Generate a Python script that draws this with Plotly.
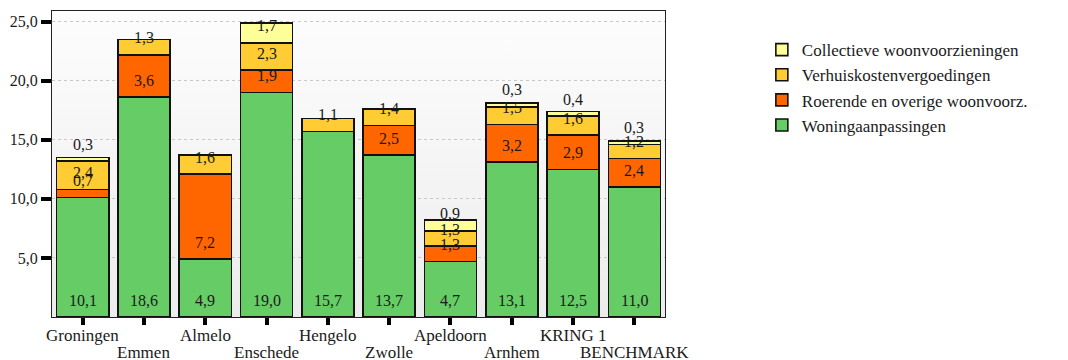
import base64
import plotly.graph_objects as go

# Gemeenten / regio's
categories = ["Groningen", "Emmen", "Almelo", "Enschede", "Hengelo",
              "Zwolle", "Apeldoorn", "Arnhem", "KRING 1", "BENCHMARK"]

# Uitgaven per component (stapelvolgorde van onder naar boven)
woningaanpassingen = [10.1, 18.6, 4.9, 19.0, 15.7, 13.7, 4.7, 13.1, 12.5, 11.0]
roerende_overige = [0.7, 3.6, 7.2, 1.9, None, 2.5, 1.3, 3.2, 2.9, 2.4]
verhuiskosten = [2.4, 1.3, 1.6, 2.3, 1.1, 1.4, 1.3, 1.5, 1.6, 1.2]
collectieve = [0.3, None, None, 1.7, None, None, 0.9, 0.3, 0.4, 0.3]

y_ticks = [5, 10, 15, 20, 25]

series = [
    ("Woningaanpassingen", woningaanpassingen, "#66CC66"),
    ("Roerende en overige woonvoorz.", roerende_overige, "#FF6600"),
    ("Verhuiskostenvergoedingen", verhuiskosten, "#FFCC33"),
    ("Collectieve woonvoorzieningen", collectieve, "#FFFF99"),
]

SERIF = "Liberation Serif"
TEXT = "#1a1a1a"

# soft vertical gradient for the plotting area
gradient_svg = (
    '<svg xmlns="http://www.w3.org/2000/svg" width="100" height="100" '
    'preserveAspectRatio="none">'
    '<defs><linearGradient id="g" x1="0" y1="0" x2="0" y2="1">'
    '<stop offset="0" stop-color="#fdfdfd"/>'
    '<stop offset="1" stop-color="#ececec"/>'
    '</linearGradient></defs>'
    '<rect width="100" height="100" fill="url(#g)"/></svg>'
)
gradient_uri = "data:image/svg+xml;base64," + base64.b64encode(
    gradient_svg.encode()).decode()

fig = go.Figure()
base = [0.0] * len(categories)
annotations = []
for name, values, color in series:
    fig.add_trace(go.Bar(
        x=categories, y=values, name=name,
        marker=dict(color=color, line=dict(color="#111111", width=1.6)),
    ))
    for i, v in enumerate(values):
        if v is None:
            continue
        # value label sits a fixed distance above the base of its segment
        annotations.append(dict(
            x=categories[i], y=base[i], xref="x", yref="y",
            text=f"{v:.1f}".replace(".", ","), showarrow=False,
            yshift=17, yanchor="middle",
            font=dict(family=SERIF, size=16, color=TEXT),
        ))
        base[i] += v

# category names, staggered over two rows below the axis
for i, c in enumerate(categories):
    annotations.append(dict(
        x=c, y=0, xref="x", yref="paper", text=c, showarrow=False,
        yanchor="middle", yshift=-18 if i % 2 == 0 else -35,
        font=dict(family=SERIF, size=17, color=TEXT),
    ))

fig.update_layout(
    width=1068, height=360,
    margin=dict(l=52, r=403, t=11, b=43),
    paper_bgcolor="white",
    plot_bgcolor="#f5f5f5",
    images=[dict(
        source=gradient_uri, xref="paper", yref="paper",
        x=0, y=1, sizex=1, sizey=1, xanchor="left", yanchor="top",
        sizing="stretch", layer="below",
    )],
    barmode="stack",
    bargap=0.15,
    separators=",.",
    font=dict(family=SERIF, color=TEXT),
    annotations=annotations,
    legend=dict(
        traceorder="reversed",
        x=1.158, xanchor="left", y=0.931, yanchor="top",
        font=dict(family=SERIF, size=17, color=TEXT),
        bgcolor="rgba(0,0,0,0)",
        tracegroupgap=0,
    ),
    xaxis=dict(
        type="category", range=[-0.5, len(categories) - 0.5],
        tickmode="array", tickvals=categories, showticklabels=False,
        automargin=False,
        ticks="outside", ticklen=7, tickwidth=4, tickcolor="black",
        showline=True, linecolor="#222222", linewidth=1, mirror=True,
        showgrid=False,
    ),
    yaxis=dict(
        range=[0, 25.9], tickvals=y_ticks, tickformat=".1f",
        automargin=False,
        ticks="outside", ticklen=10, tickwidth=4, tickcolor="black",
        tickfont=dict(family=SERIF, size=16, color=TEXT),
        showline=True, linecolor="#222222", linewidth=1, mirror=True,
        showgrid=True, gridcolor="#c8c8c8", griddash="dot", gridwidth=1,
        zeroline=False,
    ),
)

fig.write_html("out.html")
